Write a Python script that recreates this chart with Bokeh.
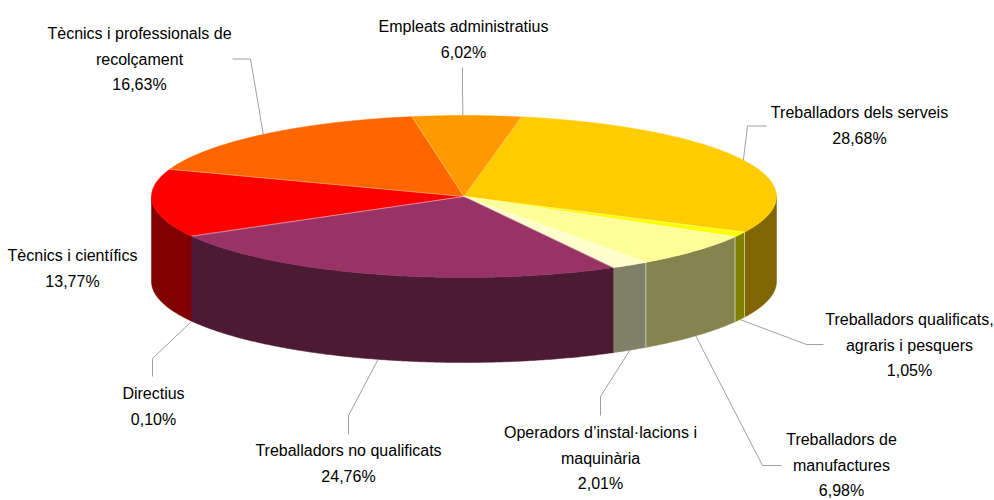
import math
import numpy as np
from bokeh.plotting import figure
from bokeh.models import Range1d
from bokeh.core.properties import value
from bokeh.embed import file_html
from bokeh.resources import INLINE

# data (clockwise from the top, beginning with "serveis")
categories = [
    ["Treballadors dels serveis"],
    ["Treballadors qualificats,", "agraris i pesquers"],
    ["Treballadors de", "manufactures"],
    ["Operadors d’instal·lacions i", "maquinària"],
    ["Treballadors no qualificats"],
    ["Directius"],
    ["Tècnics i científics"],
    ["Tècnics i professionals de", "recolçament"],
    ["Empleats administratius"],
]
shares = [28.68, 1.05, 6.98, 2.01, 24.76, 0.10, 13.77, 16.63, 6.02]
top_colors = ["#FFCC00", "#FFFF00", "#FFFF99", "#FFFFCC", "#993366", "#660066", "#FF0000", "#FF6600", "#FF9900"]
side_colors = ["#806600", "#808000", "#84844E", "#808068", "#4D1A33", "#330033", "#800000", "#803300", "#804D00"]

# layout, in page pixels
CX, CY, RX, RY, DEPTH = 463.5, 196.0, 312.5, 81.0, 85.0
START = 10.6
# the reference's 3-D view bends angles a little: pie angle -> offset in degrees
VIEW_AT = [10.6, 114.0, 150.0, 240.0, 289.0, 349.0, 360.0, 370.6]
VIEW_BY = [0.0, 2.3, 1.5, 1.3, 0.6, 1.5, 0.0, 0.0]
label_x = [859, 909, 841, 600, 348, 153, 72, 139, 463]
label_y = [112, 319, 439, 432, 450, 393, 255, 33, 26]
LINE_H = 25.5
# leader: elbow point and end point; None = no leader
leaders = [
    ((747, 125.5), (766, 125.5)),
    ((806, 344), (823, 344)),
    ((762, 465), (781, 465)),
    ((600, 396), (600, 415)),
    ((348, 415), (348, 434)),
    ((152, 358), (152, 376)),
    None,
    ((250, 58.5), (232, 58.5)),
    ((462, 90), (462, 67)),
]


def view(deg):
    return deg + float(np.interp(deg, VIEW_AT, VIEW_BY))


def pt(deg, drop=0.0):
    t = math.radians(deg)
    return CX + RX * math.sin(t), CY - RY * math.cos(t) + drop


def arc(a, b):
    n = max(2, int(abs(b - a) / 0.5) + 1)
    return [a + (b - a) * i / (n - 1) for i in range(n)]


p = figure(width=994, height=500, x_range=Range1d(0, 994), y_range=Range1d(500, 0),
           output_backend="svg", toolbar_location=None, min_border=0, outline_line_color=None)
p.axis.visible = False
p.grid.visible = False

raw = [START]
for s in shares:
    raw.append(raw[-1] + s * 3.6)
angles = [view(d) for d in raw]

# side walls
seam_x, seam_y = [], []
for i, col in enumerate(side_colors):
    a = max(angles[i], 90.0)
    b = min(angles[i + 1], 270.0)
    if a >= b:
        continue
    top = [pt(d) for d in arc(a, b)]
    bot = [pt(d, DEPTH) for d in arc(b, a)]
    poly = top + bot
    p.patch([q[0] for q in poly], [q[1] for q in poly], fill_color=col, line_color=col, line_width=0.5)
    if i < 4 and angles[i] >= 90.0:
        seam_x.append([pt(a)[0], pt(a)[0]])
        seam_y.append([pt(a)[1], pt(a, DEPTH)[1]])
    if i < 3:
        seam_x.append([pt(b)[0], pt(b)[0]])
        seam_y.append([pt(b)[1], pt(b, DEPTH)[1]])

# top faces
for i, col in enumerate(top_colors):
    rim = [pt(d) for d in arc(angles[i], angles[i + 1])]
    poly = [(CX, CY)] + rim
    p.patch([q[0] for q in poly], [q[1] for q in poly], fill_color=col, line_color=col, line_width=0.5)
    q = rim[0]
    seam_x.append([CX, q[0]])
    seam_y.append([CY, q[1]])

p.multi_line(seam_x, seam_y, line_color="#FFFFFF", line_alpha=0.4, line_width=0.8)

# leaders and labels
for i, cat in enumerate(categories):
    mid = view((raw[i] + raw[i + 1]) / 2)
    if leaders[i] is not None:
        wrapped = mid % 360
        drop = DEPTH if math.cos(math.radians(wrapped)) < 0 else 0.0
        s = pt(wrapped, drop)
        e, f = leaders[i]
        p.line([s[0], e[0], f[0]], [s[1], e[1], f[1]], line_color="#A0A0A0", line_width=1)
    lines = cat + [f"{shares[i]:.2f}".replace(".", ",") + "%"]
    p.text([label_x[i]] * len(lines), [label_y[i] + k * LINE_H for k in range(len(lines))], text=lines,
           text_font=value("Liberation Sans"), text_font_size="16px", text_color="#000000",
           text_align="center", text_baseline="middle")

open("out.html", "w").write(file_html(p, INLINE))
